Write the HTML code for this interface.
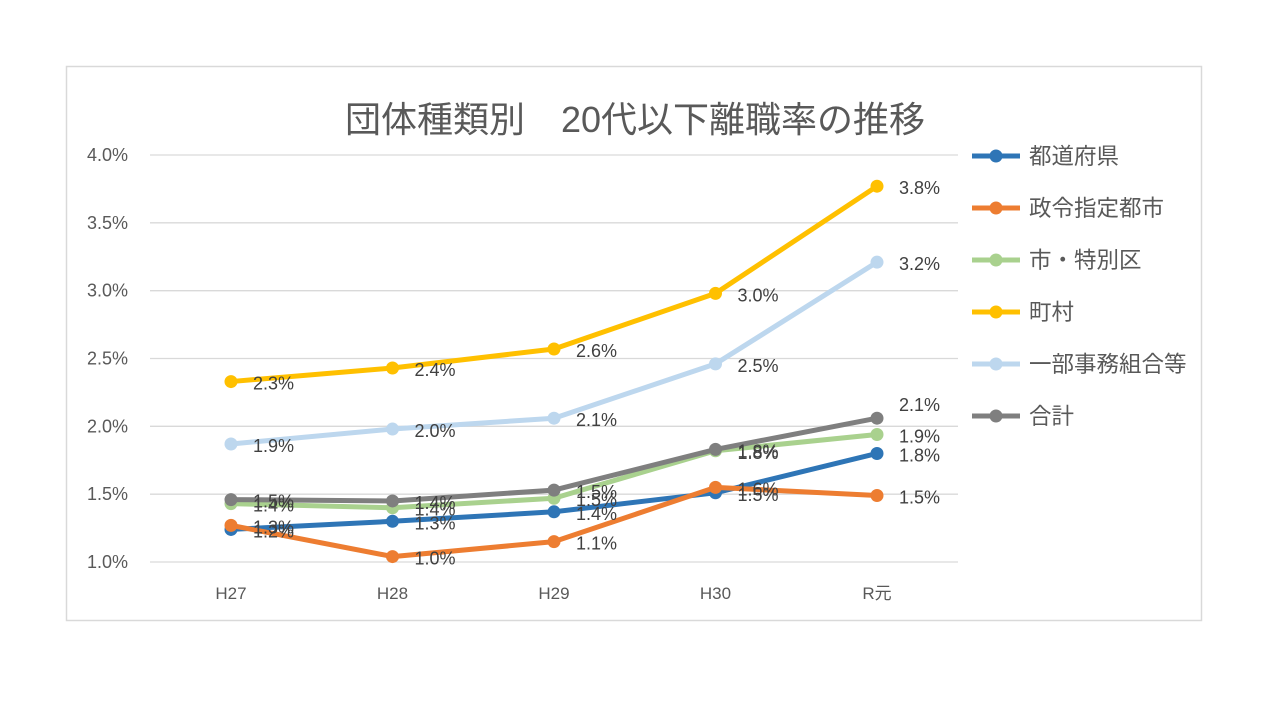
<!DOCTYPE html>
<html><head><meta charset="utf-8">
<style>
body{margin:0;background:#fff;width:1280px;height:720px;overflow:hidden;font-family:"Liberation Sans","Noto Sans CJK JP",sans-serif;}
svg text{font-family:"Liberation Sans","Noto Sans CJK JP",sans-serif;}
</style></head><body>
<svg id="chart" width="1280" height="720">
<rect x="66.5" y="66.5" width="1135" height="554" fill="#fff" stroke="#d9d9d9" stroke-width="1.5"/>
<text x="635" y="132" text-anchor="middle" font-size="36" fill="#595959">団体種類別　20代以下離職率の推移</text>
<g id="grid"></g><g id="series"></g><g id="legend"></g>
</svg>
<script>
const categories=["H27","H28","H29","H30","R元"];
const yTicks=[1.0,1.5,2.0,2.5,3.0,3.5,4.0];
const seriesNames=["都道府県","政令指定都市","市・特別区","町村","一部事務組合等","合計"];
const colors=["#2e75b6","#ed7d31","#a9d18e","#ffc000","#bdd7ee","#7f7f7f"];
const sPref=[1.24,1.30,1.37,1.51,1.80];
const sCity=[1.27,1.04,1.15,1.55,1.49];
const sWard=[1.43,1.40,1.47,1.82,1.94];
const sTown=[2.33,2.43,2.57,2.98,3.77];
const sUnion=[1.87,1.98,2.06,2.46,3.21];
const sTotal=[1.46,1.45,1.53,1.83,2.06];
const allSeries=[sPref,sCity,sWard,sTown,sUnion,sTotal];
const NS="http://www.w3.org/2000/svg";
function xS(i){return 231+i*161.5;}
function yS(v){return 562-(v-1.0)*(407/3.0);}
function mk(t,a,p){const e=document.createElementNS(NS,t);for(const k in a)e.setAttribute(k,a[k]);p.appendChild(e);return e;}
const g=document.getElementById('grid');
yTicks.forEach(v=>{
 const l=mk('line',{x1:150,x2:958,y1:yS(v),y2:yS(v),stroke:'#d9d9d9','stroke-width':1.3},g);
 
 
 const t=mk('text',{x:128,y:yS(v)+6,'text-anchor':'end','font-size':18,fill:'#595959'},g);
 t.textContent=v.toFixed(1)+'%';
 
 
});
categories.forEach((c,i)=>{
 const t=mk('text',{x:xS(i),y:599,'text-anchor':'middle','font-size':17,fill:'#595959'},g);
 t.textContent=c;
 
 
});
const sg=document.getElementById('series');
allSeries.forEach((arr,si)=>{
 const pts=arr.map((v,i)=>xS(i)+','+yS(v)).join(' ');
 const pl=mk('polyline',{points:pts,fill:'none',stroke:colors[si],'stroke-width':5,'stroke-linejoin':'round'},sg);
 
 
 arr.forEach((v,i)=>{
  const c=mk('circle',{cx:xS(i),cy:yS(v),r:6.5,fill:colors[si]},sg);
  
  
 });
});
allSeries.forEach((arr,si)=>{
 arr.forEach((v,i)=>{
  let dy=8;
  if(si===5&&i===4)dy=-7;
  const t=mk('text',{x:xS(i)+22,y:yS(v)+dy,'font-size':18,fill:'#404040'},sg);
  t.textContent=v.toFixed(1)+'%';
  
  
 });
});
const lg=document.getElementById('legend');
seriesNames.forEach((n,i)=>{
 const y=156+i*52;
 const l=mk('line',{x1:972,x2:1020,y1:y,y2:y,stroke:colors[i],'stroke-width':5},lg);
 
 
 const c=mk('circle',{cx:996,cy:y,r:6.5,fill:colors[i]},lg);
 
 
 const t=mk('text',{x:1029,y:y+8,'font-size':22.5,fill:'#595959'},lg);
 t.textContent=n;
 
 
});
</script>
</body></html>
